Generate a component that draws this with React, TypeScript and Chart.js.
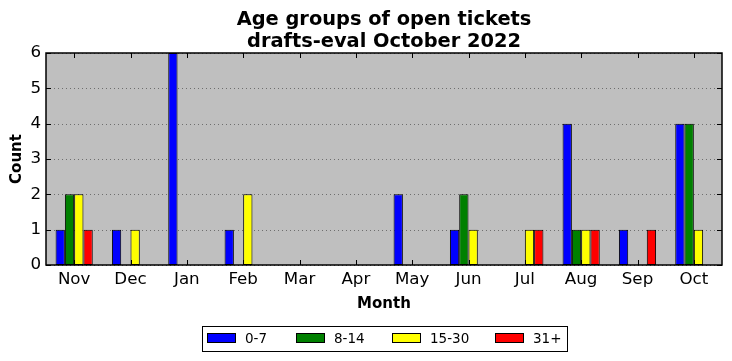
import React, { useEffect, useRef } from "react";
import { Chart, registerables } from "chart.js";

Chart.register(...registerables);

const months = ["Nov", "Dec", "Jan", "Feb", "Mar", "Apr", "May", "Jun", "Jul", "Aug", "Sep", "Oct"];
const seriesLabels = ["0-7", "8-14", "15-30", "31+"];
const seriesColors = ["#0000ff", "#008000", "#ffff00", "#ff0000"];
const age0to7 = [1, 1, 6, 1, 0, 0, 2, 1, 0, 4, 1, 4];
const age8to14 = [2, 0, 0, 0, 0, 0, 0, 2, 0, 1, 0, 4];
const age15to30 = [2, 1, 0, 2, 0, 0, 0, 1, 1, 1, 0, 1];
const age31plus = [1, 0, 0, 0, 0, 0, 0, 0, 1, 1, 1, 0];
const yTicks = [0, 1, 2, 3, 4, 5, 6];
const titleLines = ["Age groups of open tickets", "drafts-eval October 2022"];
const xTitle = "Month";
const yTitle = "Count";

const FONT = "'DejaVu Sans', sans-serif";

const decorPlugin = {
  id: "decor",
  beforeDatasetsDraw(chart: any) {
    const { ctx, chartArea: a, scales } = chart;
    ctx.save();
    ctx.fillStyle = "#bfbfbf";
    ctx.fillRect(a.left, a.top, a.right - a.left, a.bottom - a.top);
    ctx.strokeStyle = "#6e6e6e";
    ctx.lineWidth = 1;
    ctx.setLineDash([1, 3]);
    for (const v of yTicks) {
      const y = Math.round(scales.y.getPixelForValue(v)) + 0.5;
      ctx.beginPath();
      ctx.moveTo(a.left, y);
      ctx.lineTo(a.right, y);
      ctx.stroke();
    }
    ctx.restore();
  },
  afterDatasetsDraw(chart: any) {
    const { ctx, chartArea: a, scales } = chart;
    ctx.save();
    ctx.strokeStyle = "#000";
    ctx.lineWidth = 1;
    ctx.setLineDash([]);
    for (const v of yTicks) {
      const y = Math.round(scales.y.getPixelForValue(v)) + 0.5;
      ctx.beginPath();
      ctx.moveTo(a.left, y);
      ctx.lineTo(a.left + 5, y);
      ctx.moveTo(a.right, y);
      ctx.lineTo(a.right - 5, y);
      ctx.stroke();
    }
    months.forEach((_, i) => {
      const x = Math.round(scales.x.getPixelForValue(i)) + 0.5;
      ctx.beginPath();
      ctx.moveTo(x, a.bottom);
      ctx.lineTo(x, a.bottom - 5);
      ctx.moveTo(x, a.top);
      ctx.lineTo(x, a.top + 5);
      ctx.stroke();
    });
    ctx.lineWidth = 1.5;
    ctx.strokeRect(a.left, a.top, a.right - a.left, a.bottom - a.top);

    ctx.fillStyle = "#000";
    ctx.textAlign = "center";
    ctx.textBaseline = "middle";
    const cx = (a.left + a.right) / 2;
    ctx.font = `bold 19.4px ${FONT}`;
    ctx.fillText(titleLines[0], cx, 20);
    ctx.fillText(titleLines[1], cx, 42);
    ctx.font = `bold 15px ${FONT}`;
    ctx.fillText(xTitle, cx, 304);
    ctx.save();
    ctx.translate(17, (a.top + a.bottom) / 2);
    ctx.rotate(-Math.PI / 2);
    ctx.fillText(yTitle, 0, 0);
    ctx.restore();

    ctx.lineWidth = 1;
    ctx.strokeRect(202.5, 326.5, 365, 25);
    const swX = [207, 296, 392, 495];
    ctx.font = `13.5px ${FONT}`;
    ctx.textAlign = "left";
    chart.data.datasets.forEach((ds: any, i: number) => {
      ctx.fillStyle = ds.backgroundColor;
      ctx.fillRect(swX[i] + 0.5, 333.5, 28, 9);
      ctx.strokeStyle = "#000";
      ctx.strokeRect(swX[i] + 0.5, 333.5, 28, 9);
      ctx.fillStyle = "#000";
      ctx.fillText(ds.label, swX[i] + 38, 339);
    });
    ctx.restore();
  },
};

export default function App() {
  const ref = useRef<HTMLCanvasElement>(null);
  useEffect(() => {
    if (!ref.current) return;
    const series = [age0to7, age8to14, age15to30, age31plus];
    const chart = new Chart(ref.current, {
      type: "bar",
      data: {
        labels: months,
        datasets: series.map((d, i) => ({
          label: seriesLabels[i],
          data: d,
          backgroundColor: seriesColors[i],
          borderColor: "#000",
          borderWidth: 1,
          borderSkipped: false,
          barPercentage: 1,
          categoryPercentage: 0.66,
        })),
      },
      options: {
        animation: false,
        responsive: false,
        maintainAspectRatio: false,
        layout: { padding: { left: 0, right: 10, top: 53, bottom: 0 } },
        plugins: { legend: { display: false }, tooltip: { enabled: false }, title: { display: false } },
        scales: {
          x: {
            grid: { display: false, drawTicks: false },
            border: { display: false },
            ticks: { color: "#000", font: { family: FONT, size: 16.7, lineHeight: 1.1 }, padding: 5, maxRotation: 0 },
            afterFit: (s: any) => { s.height = 96; },
          },
          y: {
            min: 0,
            max: 6,
            grid: { display: false, drawTicks: false },
            border: { display: false },
            ticks: { stepSize: 1, color: "#000", font: { family: FONT, size: 16.7 }, padding: 5 },
            afterFit: (s: any) => { s.width = 46; },
          },
        },
      },
      plugins: [decorPlugin],
    });
    return () => chart.destroy();
  }, []);
  return (
    <div style={{ position: "fixed", left: 0, top: 0, width: 732, height: 361, background: "#fff" }}>
      <canvas ref={ref} width={732} height={361} style={{ width: 732, height: 361 }} />
    </div>
  );
}
